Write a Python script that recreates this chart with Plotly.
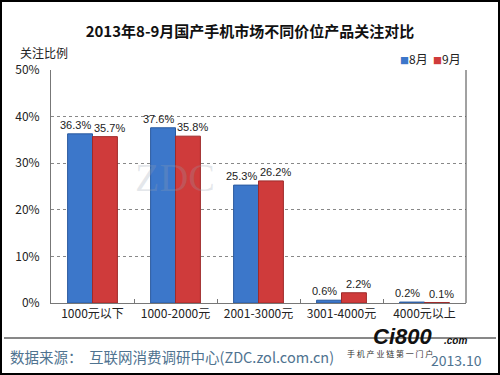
import plotly.graph_objects as go

categories = ["1000元以下", "1000-2000元", "2001-3000元", "3001-4000元", "4000元以上"]
aug_values = [36.3, 37.6, 25.3, 0.6, 0.2]
sep_values = [35.7, 35.8, 26.2, 2.2, 0.1]
series_names = ["8月", "9月"]
series_colors = ["#3c77ca", "#cf3b3b"]
y_ticks = [0, 10, 20, 30, 40, 50]
y_tick_labels = ["0%", "10%", "20%", "30%", "40%", "50%"]

FONT = "Noto Sans CJK SC"

fig = go.Figure()
for name, vals, col, edge in [(series_names[0], aug_values, series_colors[0], "#2a5a9e"),
                              (series_names[1], sep_values, series_colors[1], "#9e2a2a")]:
    fig.add_trace(go.Bar(x=categories, y=vals, name=name,
                         marker=dict(color=col, line=dict(color=edge, width=1)), showlegend=False))

def px_x(p):
    return (p - 51) / 415

def px_y(p):
    return (303 - p) / 233

annotations = []
# value labels, placed above each bar via the category axis
for i, cat in enumerate(categories):
    for vals, off, shift in [(aug_values, -0.15, -5), (sep_values, 0.15, 5)]:
        annotations.append(dict(x=i + off, y=vals[i], xref="x", yref="y", text=f"{vals[i]:.1f}%",
                                showarrow=False, yanchor="bottom", xanchor="center", xshift=shift, yshift=1,
                                font=dict(size=11, color="#222", family="Liberation Sans")))

# legend drawn as text
annotations.append(dict(
    text=f'<span style="color:{series_colors[0]};font-size:9px">■</span>{series_names[0]}  '
         f'<span style="color:{series_colors[1]};font-size:9px">■</span>{series_names[1]}',
    xref="paper", yref="paper", x=px_x(398), y=px_y(58), xanchor="left", yanchor="middle",
    showarrow=False, font=dict(size=12, color="#222", family=FONT)))

annotations += [
    dict(text="关注比例", xref="paper", yref="paper", x=px_x(18), y=px_y(52), xanchor="left", yanchor="middle",
         showarrow=False, font=dict(size=12, color="#222", family=FONT)),
    dict(text="ZDC", xref="paper", yref="paper", x=px_x(175), y=px_y(177), xanchor="center", yanchor="middle",
         showarrow=False, font=dict(size=40, color="rgba(150,160,175,0.25)", family="Liberation Serif")),
    dict(text="数据来源：  互联网消费调研中心(ZDC.zol.com.cn)", xref="paper", yref="paper", x=px_x(8), y=px_y(356),
         xanchor="left", yanchor="middle", showarrow=False, font=dict(size=14.5, color="#4f7390", family=FONT)),
    dict(text="2013.10", xref="paper", yref="paper", x=px_x(484), y=px_y(360), xanchor="right", yanchor="middle",
         showarrow=False, font=dict(size=14, color="#4f7390", family=FONT)),
    dict(text="<b><i>Ci800</i></b>", xref="paper", yref="paper", x=px_x(402), y=px_y(336), xanchor="center",
         yanchor="middle", showarrow=False, font=dict(size=22, color="#111", family="Liberation Sans")),
    dict(text="<b><i>.com</i></b>", xref="paper", yref="paper", x=px_x(455), y=px_y(340), xanchor="center",
         yanchor="middle", showarrow=False, font=dict(size=10, color="#111", family="Liberation Sans")),
    dict(text="手 机 产 业 链 第 一 门 户", xref="paper", yref="paper", x=px_x(390), y=px_y(353), xanchor="center",
         yanchor="middle", showarrow=False, font=dict(size=8, color="#333", family=FONT)),
]

shapes = [
    dict(type="rect", xref="paper", yref="paper", x0=px_x(1), x1=px_x(499), y0=px_y(374), y1=px_y(1),
         line=dict(color="#000", width=2), fillcolor="rgba(0,0,0,0)", layer="below"),
    dict(type="line", xref="paper", yref="paper", x0=px_x(4), x1=px_x(496), y0=px_y(338), y1=px_y(338),
         line=dict(color="#111", width=1)),
    dict(type="line", xref="paper", yref="paper", x0=1, x1=1, y0=0, y1=1,
         line=dict(color="#444", width=1)),
]

fig.update_layout(
    width=500, height=375,
    margin=dict(l=51, r=34, t=70, b=72, autoexpand=False),
    paper_bgcolor="white", plot_bgcolor="white",
    title=dict(text="<b>2013年8-9月国产手机市场不同价位产品关注对比</b>", x=0.5, xanchor="center",
               y=1 - 32 / 375, yanchor="middle", font=dict(size=15, color="#111", family=FONT)),
    barmode="group", bargap=0.4, bargroupgap=0.0,
    showlegend=False,
    font=dict(family=FONT),
    shapes=shapes,
    annotations=annotations,
)
fig.update_yaxes(range=[0, 50], tickvals=y_ticks, ticktext=y_tick_labels,
                 showgrid=True, gridcolor="#888", griddash="dot", gridwidth=1,
                 showline=True, linecolor="#777", linewidth=1, ticks="", ticklen=0, ticklabelstandoff=8,
                 tickfont=dict(size=12, color="#222", family=FONT), zeroline=False, automargin=False)
fig.update_xaxes(showline=True, linecolor="#777", linewidth=1, ticks="inside", tickson="boundaries",
                 ticklen=4, tickcolor="#777", tickangle=0, automargin=False,
                 tickfont=dict(size=12, color="#222", family=FONT))

fig.write_html("out.html", config={"displayModeBar": False},
               post_script="document.body.style.margin='0';")
